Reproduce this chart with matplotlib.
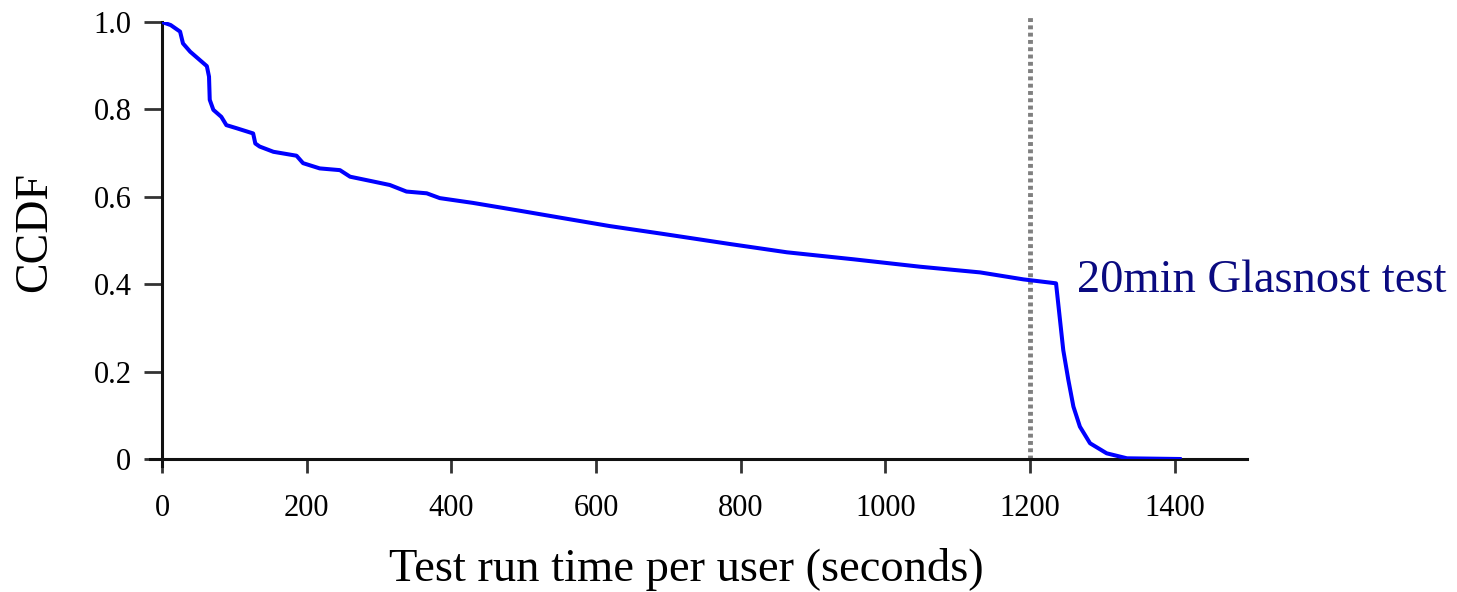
import matplotlib
matplotlib.use("Agg")
import matplotlib.pyplot as plt

# Data
time_s = [0, 12, 25, 29, 39, 62, 65, 66, 71, 82, 89, 103, 126, 129, 135, 154, 186, 195,
          218, 246, 260, 292, 315, 338, 366, 384, 430, 495, 555, 619, 693, 785,
          864, 956, 1048, 1131, 1191, 1236, 1242, 1246, 1253, 1260, 1269, 1283,
          1306, 1334, 1407]
ccdf = [1.0, 0.993, 0.978, 0.951, 0.932, 0.899, 0.875, 0.822, 0.799, 0.783, 0.764, 0.757,
        0.745, 0.722, 0.715, 0.703, 0.694, 0.677, 0.665, 0.661, 0.646, 0.635,
        0.627, 0.612, 0.608, 0.597, 0.586, 0.568, 0.551, 0.533, 0.515, 0.492,
        0.473, 0.457, 0.440, 0.427, 0.411, 0.402, 0.31, 0.249, 0.181, 0.12,
        0.074, 0.036, 0.013, 0.0016, 0.0]
x_ticks = [0, 200, 400, 600, 800, 1000, 1200, 1400]
y_ticks = [0, 0.2, 0.4, 0.6, 0.8, 1.0]
y_ticklabels = ["0", "0.2", "0.4", "0.6", "0.8", "1.0"]
test_limit = 1200
annotation = "20min Glasnost test"

plt.rcParams['font.family'] = ['Liberation Serif', 'DejaVu Serif']

fig = plt.figure(figsize=(14.57, 5.92), dpi=100)
ax = fig.add_axes([162/1457, 1 - 459/592, 1085/1457, 437/592])

ax.plot(time_s, ccdf, color='#0000ff', lw=2.9, solid_joinstyle='round', zorder=3)
ax.axvline(test_limit, ymin=0, ymax=1.012, color='#808080', lw=3.5,
           linestyle=(0, (0.8, 0.7)), clip_on=False, zorder=2)

ax.text(1265, 0.407, annotation, color='#0a0a80', fontsize=33.5,
        ha='left', va='center', clip_on=False)

ax.set_xlim(0, 1500)
ax.set_ylim(0, 1.0)
ax.set_xticks(x_ticks)
ax.set_yticks(y_ticks)
ax.set_yticklabels(y_ticklabels)

for s in ['top', 'right']:
    ax.spines[s].set_visible(False)
for s in ['left', 'bottom']:
    ax.spines[s].set_linewidth(2.2)
    ax.spines[s].set_color('#111111')
ax.spines['left'].set_bounds(-0.016, 1.0)
ax.spines['bottom'].set_bounds(-17, 1500)

ax.tick_params(axis='both', direction='out', width=2, color='#333333',
               labelsize=22)
ax.tick_params(axis='y', length=13, pad=9)
ax.tick_params(axis='x', length=10, pad=15)

ax.set_xlabel("Test run time per user (seconds)", fontsize=33.5)
ax.set_ylabel("CCDF", fontsize=33)
ax.xaxis.set_label_coords(0.483, -0.203)
ax.yaxis.set_label_coords(-0.098, 0.52)

fig.savefig("out.png", dpi=100)
